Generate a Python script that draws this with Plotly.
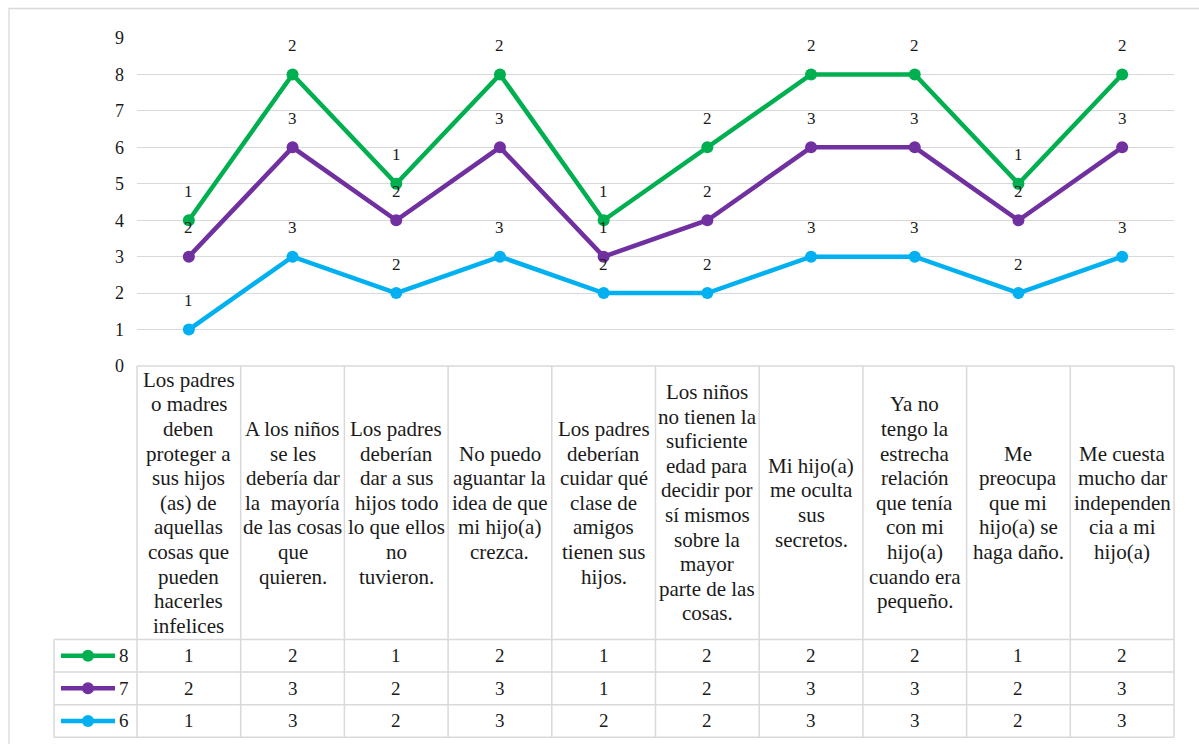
import numpy as np
import plotly.graph_objects as go

# ---- data -------------------------------------------------------------
categories = [
    ["Los padres", "o madres", "deben", "proteger a", "sus hijos", "(as) de",
     "aquellas", "cosas que", "pueden", "hacerles", "infelices"],
    ["A los niños", "se les", "debería dar", "la  mayoría", "de las cosas",
     "que", "quieren."],
    ["Los padres", "deberían", "dar a sus", "hijos todo", "lo que ellos",
     "no", "tuvieron."],
    ["No puedo", "aguantar la", "idea de que", "mi hijo(a)", "crezca."],
    ["Los padres", "deberían", "cuidar qué", "clase de", "amigos",
     "tienen sus", "hijos."],
    ["Los niños", "no tienen la", "suficiente", "edad para", "decidir por",
     "sí mismos", "sobre la", "mayor", "parte de las", "cosas."],
    ["Mi hijo(a)", "me oculta", "sus", "secretos."],
    ["Ya no", "tengo la", "estrecha", "relación", "que tenía", "con mi",
     "hijo(a)", "cuando era", "pequeño."],
    ["Me", "preocupa", "que mi", "hijo(a) se", "haga daño."],
    ["Me cuesta", "mucho dar", "independen", "cia a mi", "hijo(a)"],
]

series_names = ["6", "7", "8"]
values_6 = [1, 3, 2, 3, 2, 2, 3, 3, 2, 3]
values_7 = [2, 3, 2, 3, 1, 2, 3, 3, 2, 3]
values_8 = [1, 2, 1, 2, 1, 2, 2, 2, 1, 2]
y_ticks = [0, 1, 2, 3, 4, 5, 6, 7, 8, 9]

colors = {"6": "#00B0F0", "7": "#7030A0", "8": "#00B050"}

# ---- geometry (pixels) -----------------------------------------------
W, H = 1199, 744
PL, PR, PT, PB = 137, 1174, 38, 366   # plot area box
GRID = "#D9D9D9"
FONT = "'Liberation Serif', 'Times New Roman', Times, serif"
TXT = "#1a1a1a"


def px_x(px):
    return (px - PL) / (PR - PL)


def px_y(py):
    return (PB - py) / (PB - PT)


n = len(categories)
x_idx = np.arange(n)
stack = np.cumsum(np.array([values_6, values_7, values_8]), axis=0)
raw = {"6": values_6, "7": values_7, "8": values_8}

fig = go.Figure()
for k, name in enumerate(series_names):
    fig.add_trace(go.Scatter(
        x=x_idx, y=stack[k], mode="lines+markers", name=name,
        line=dict(color=colors[name], width=4.5),
        marker=dict(color=colors[name], size=12),
        showlegend=False, hoverinfo="skip",
    ))

annotations = []
# value labels above each point
for k, name in enumerate(series_names):
    for i in range(n):
        annotations.append(dict(
            x=i, y=stack[k][i], xref="x", yref="y", text=str(raw[name][i]),
            showarrow=False, yshift=29, font=dict(family=FONT, size=17, color=TXT),
        ))

shapes = []
# outer chart border
shapes.append(dict(type="rect", xref="paper", yref="paper",
                   x0=px_x(9), x1=px_x(1230), y0=px_y(8.5), y1=px_y(780),
                   line=dict(color=GRID, width=1.3), fillcolor="rgba(0,0,0,0)",
                   layer="below"))

# data table grid
col_w = (PR - PL) / n
row_lines = [639.5, 672, 704.7, 737.3]
shapes.append(dict(type="line", xref="paper", yref="paper",
                   x0=px_x(PL), x1=px_x(PR), y0=px_y(PB), y1=px_y(PB),
                   line=dict(color=GRID, width=1.5)))
for ry in row_lines:
    shapes.append(dict(type="line", xref="paper", yref="paper",
                       x0=px_x(54), x1=px_x(PR), y0=px_y(ry), y1=px_y(ry),
                       line=dict(color=GRID, width=1.5)))
for i in range(n + 1):
    vx = PL + i * col_w
    shapes.append(dict(type="line", xref="paper", yref="paper",
                       x0=px_x(vx), x1=px_x(vx), y0=px_y(PB), y1=px_y(row_lines[-1]),
                       line=dict(color=GRID, width=1.5)))
shapes.append(dict(type="line", xref="paper", yref="paper",
                   x0=px_x(54), x1=px_x(54), y0=px_y(row_lines[0]), y1=px_y(row_lines[-1]),
                   line=dict(color=GRID, width=1.5)))

# header cells: wrapped category text, vertically centred
line_h = 24.6
head_mid = (PB + row_lines[0]) / 2
for i, lines in enumerate(categories):
    m = len(lines)
    for j, t in enumerate(lines):
        cy = head_mid + (j - (m - 1) / 2) * line_h
        annotations.append(dict(
            x=i, y=px_y(cy), xref="x", yref="paper", text=t, showarrow=False,
            xanchor="center", yanchor="middle",
            font=dict(family=FONT, size=21, color=TXT),
        ))

# value rows: series 8, 7, 6 from top to bottom
row_order = ["8", "7", "6"]
for r, name in enumerate(row_order):
    cy = (row_lines[r] + row_lines[r + 1]) / 2
    for i in range(n):
        annotations.append(dict(
            x=i, y=px_y(cy), xref="x", yref="paper", text=str(raw[name][i]),
            showarrow=False, xanchor="center", yanchor="middle",
            font=dict(family=FONT, size=19, color=TXT),
        ))
    # legend key inside the table
    shapes.append(dict(type="line", xref="paper", yref="paper",
                       x0=px_x(61), x1=px_x(115), y0=px_y(cy), y1=px_y(cy),
                       line=dict(color=colors[name], width=4.5)))
    shapes.append(dict(type="circle", xref="paper", yref="paper",
                       x0=px_x(82), x1=px_x(94), y0=px_y(cy - 6), y1=px_y(cy + 6),
                       line=dict(color=colors[name], width=0),
                       fillcolor=colors[name]))
    annotations.append(dict(
        x=px_x(117), y=px_y(cy), xref="paper", yref="paper", text=name,
        showarrow=False, xanchor="left", yanchor="middle",
        font=dict(family=FONT, size=19, color=TXT),
    ))

fig.update_layout(
    width=W, height=H,
    margin=dict(l=PL, r=W - PR, t=PT, b=H - PB, pad=0),
    paper_bgcolor="white", plot_bgcolor="white",
    font=dict(family=FONT, color=TXT),
    xaxis=dict(range=[-0.5, n - 0.5], showgrid=False, zeroline=False,
               showticklabels=False, showline=False, fixedrange=True),
    yaxis=dict(range=[0, 9], tickvals=y_ticks, showgrid=True, gridcolor=GRID,
               gridwidth=1.3, zeroline=False, showline=False,
               tickfont=dict(family=FONT, size=18, color=TXT),
               ticklabelstandoff=12, fixedrange=True),
    shapes=shapes,
    annotations=annotations,
    showlegend=False,
)

fig.write_html("out.html")
